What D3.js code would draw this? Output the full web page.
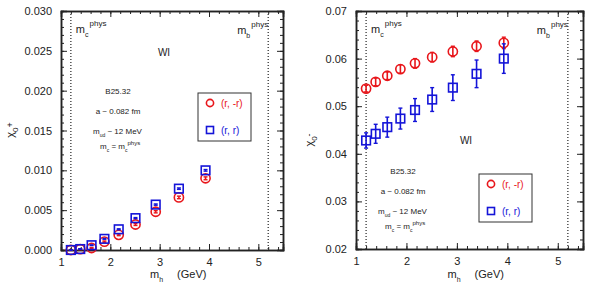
<!DOCTYPE html>
<html>
<head>
<meta charset="utf-8">
<script src="https://cdn.jsdelivr.net/npm/d3@7"></script>
<style>
  body { margin: 0; background: #fff; }
  svg text { font-family: "Liberation Sans", "DejaVu Sans", sans-serif; fill: #222; }
</style>
</head>
<body>
<script>
// hadron masses m_h (GeV)
var mh = [1.20, 1.39, 1.62, 1.88, 2.17, 2.51, 2.92, 3.39, 3.93];

// chi_0+ panel
var plusRed = [0.0000, 0.0001, 0.00025, 0.00105, 0.0019, 0.0032, 0.0048, 0.0066, 0.0090];
var plusRedErr = [0.00005, 0.00005, 0.00006, 0.00008, 0.0001, 0.00012, 0.00014, 0.00016, 0.00018];
var plusBlue = [0.0000, 0.00012, 0.0006, 0.0014, 0.0026, 0.0040, 0.0057, 0.0077, 0.0100];
var plusBlueErr = [0.00003, 0.00003, 0.00004, 0.00005, 0.00006, 0.00007, 0.00008, 0.00009, 0.0001];

// chi_0- panel
var minusRed = [0.0537, 0.0551, 0.0564, 0.0578, 0.0590, 0.0603, 0.0615, 0.0626, 0.0633];
var minusRedErr = [0.0007, 0.0008, 0.0008, 0.0009, 0.0010, 0.0010, 0.0011, 0.0011, 0.0012];
var minusBlue = [0.0428, 0.0442, 0.0456, 0.0474, 0.0492, 0.0514, 0.0539, 0.0568, 0.0600];
var minusBlueErr = [0.0016, 0.0020, 0.0021, 0.0022, 0.0024, 0.0025, 0.0027, 0.0029, 0.0031];

var xTicks = [1, 2, 3, 4, 5];
var mcPhys = 1.2, mbPhys = 5.2;

var red = "#e8161b", blue = "#1414d8";

var svg = d3.select("body").append("svg")
    .attr("width", 597).attr("height", 294);

function panel(o) {
    var g = svg.append("g");
    var x = d3.scaleLinear().domain([1, 5.5]).range([o.left, o.right]);
    var y = d3.scaleLinear().domain(o.ydom).range([o.bottom, o.top]);

    // minor + major ticks on all sides (inward)
    var xMinor = d3.range(1, 5.5001, 0.2);
    var yMinor = d3.range(o.ydom[0], o.ydom[1] + 1e-9, o.minor);
    g.append("g").attr("transform", "translate(0," + o.bottom + ")")
        .call(d3.axisBottom(x).tickValues(xMinor).tickSize(-3).tickFormat(""));
    g.append("g").attr("transform", "translate(0," + o.top + ")")
        .call(d3.axisTop(x).tickValues(xMinor).tickSize(-3).tickFormat(""));
    g.append("g").attr("transform", "translate(" + o.left + ",0)")
        .call(d3.axisLeft(y).tickValues(yMinor).tickSize(-3).tickFormat(""));
    g.append("g").attr("transform", "translate(" + o.right + ",0)")
        .call(d3.axisRight(y).tickValues(yMinor).tickSize(-3).tickFormat(""));

    var xa = g.append("g").attr("transform", "translate(0," + o.bottom + ")")
        .call(d3.axisBottom(x).tickValues(xTicks).tickSize(-6).tickPadding(8).tickFormat(d3.format("d")));
    g.append("g").attr("transform", "translate(0," + o.top + ")")
        .call(d3.axisTop(x).tickValues(xTicks).tickSize(-6).tickFormat(""));
    var ya = g.append("g").attr("transform", "translate(" + o.left + ",0)")
        .call(d3.axisLeft(y).tickValues(o.yticks).tickSize(-6).tickPadding(9).tickFormat(d3.format(o.fmt)));
    g.append("g").attr("transform", "translate(" + o.right + ",0)")
        .call(d3.axisRight(y).tickValues(o.yticks).tickSize(-6).tickFormat(""));
    g.selectAll(".domain").attr("stroke", "#222").attr("stroke-width", 1.5);
    g.selectAll(".tick line").attr("stroke", "#222");
    xa.selectAll("text").style("font-size", "11px");
    ya.selectAll("text").style("font-size", "11px");

    // physical mass lines
    [mcPhys, mbPhys].forEach(function(v) {
        g.append("line").attr("x1", x(v)).attr("x2", x(v))
            .attr("y1", o.top).attr("y2", o.bottom)
            .attr("stroke", "#222").attr("stroke-width", 1.2)
            .attr("stroke-dasharray", "1,2");
    });

    // labels
    function mlabel(subTxt, xx, yy) {
        var tx = g.append("text").attr("x", xx).attr("y", yy).style("font-size", "11px");
        tx.append("tspan").text("m");
        tx.append("tspan").attr("dy", 4).style("font-size", "7px").text(subTxt);
        tx.append("tspan").attr("dy", -11).attr("dx", 1).style("font-size", "8px").text("phys");
    }
    mlabel("c", x(mcPhys) + 5, o.top + 22);
    mlabel("b", x(mbPhys) - 31, o.top + 23);
    g.append("text").attr("x", o.wi[0]).attr("y", o.wi[1]).attr("text-anchor", "middle")
        .style("font-size", "10px").text("WI");

    var ix = o.info[0], iy = o.info[1];
    g.append("text").attr("x", ix).attr("y", iy).attr("text-anchor", "middle").style("font-size", "8px").text("B25.32");
    g.append("text").attr("x", ix).attr("y", iy + 20).attr("text-anchor", "middle").style("font-size", "8px").text("a ~ 0.082 fm");
    var t3 = g.append("text").attr("x", ix - 25).attr("y", iy + 40).style("font-size", "8px");
    t3.append("tspan").text("m");
    t3.append("tspan").attr("dy", 3).style("font-size", "5px").text("ud");
    t3.append("tspan").attr("dy", -3).text(" ~ 12 MeV");
    var t4 = g.append("text").attr("x", ix - 18).attr("y", iy + 55).style("font-size", "8px");
    t4.append("tspan").text("m");
    t4.append("tspan").attr("dy", 3).style("font-size", "5px").text("c");
    t4.append("tspan").attr("dy", -3).text(" = m");
    t4.append("tspan").attr("dy", 3).style("font-size", "5px").text("c");
    t4.append("tspan").attr("dy", -7).style("font-size", "6px").text("phys");

    // legend
    var lg = o.legend;
    g.append("rect").attr("x", lg[0]).attr("y", lg[1]).attr("width", 53).attr("height", 48)
        .attr("fill", "#fff").attr("stroke", "#333").attr("stroke-width", 1);
    g.append("circle").attr("cx", lg[0] + 12).attr("cy", lg[1] + 10).attr("r", 3.6)
        .attr("fill", "none").attr("stroke", red).attr("stroke-width", 1.6);
    g.append("text").attr("x", lg[0] + 23).attr("y", lg[1] + 14)
        .style("font-size", "10px").style("fill", red).text("(r, -r)");
    g.append("rect").attr("x", lg[0] + 8.5).attr("y", lg[1] + 33.5).attr("width", 7).attr("height", 7)
        .attr("fill", "none").attr("stroke", blue).attr("stroke-width", 1.6);
    g.append("text").attr("x", lg[0] + 23).attr("y", lg[1] + 41)
        .style("font-size", "10px").style("fill", blue).text("(r, r)");

    // axis titles
    var xt = g.append("text").attr("x", (o.left + o.right) / 2 - 22).attr("y", 278).style("font-size", "11px");
    xt.append("tspan").text("m");
    xt.append("tspan").attr("dy", 4).style("font-size", "7px").text("h");
    xt.append("tspan").attr("dy", -4).attr("dx", 14).text("(GeV)");
    var yt = g.append("text").attr("transform", "translate(" + o.ylab[0] + "," + o.ylab[1] + ") rotate(-90)")
        .attr("text-anchor", "middle").style("font-size", "11px");
    yt.append("tspan").text("\u03c7");
    yt.append("tspan").attr("dy", 4).style("font-size", "8px").text("0");
    yt.append("tspan").attr("dy", -5).style("font-size", "9px").text(o.sign);

    // data: error bars + markers
    function series(vals, errs, col, shape) {
        var s = g.append("g");
        var d = mh.map(function(m, i) { return { m: m, v: vals[i], e: errs[i] }; });
        s.selectAll(null).data(d).enter().append("line")
            .attr("x1", function(p) { return x(p.m); }).attr("x2", function(p) { return x(p.m); })
            .attr("y1", function(p) { return y(p.v - p.e); }).attr("y2", function(p) { return y(p.v + p.e); })
            .attr("stroke", col).attr("stroke-width", 1.6);
        [-1, 1].forEach(function(sg) {
            s.selectAll(null).data(d).enter().append("line")
                .attr("x1", function(p) { return x(p.m) - 2; }).attr("x2", function(p) { return x(p.m) + 2; })
                .attr("y1", function(p) { return y(p.v + sg * p.e); })
                .attr("y2", function(p) { return y(p.v + sg * p.e); })
                .attr("stroke", col).attr("stroke-width", 1.4);
        });
        if (shape == "circle") {
            s.selectAll(null).data(d).enter().append("circle")
                .attr("cx", function(p) { return x(p.m); }).attr("cy", function(p) { return y(p.v); })
                .attr("r", 4.6).attr("fill", "none").attr("stroke", col).attr("stroke-width", 1.6);
        } else {
            s.selectAll(null).data(d).enter().append("rect")
                .attr("x", function(p) { return x(p.m) - 4.3; }).attr("y", function(p) { return y(p.v) - 4.3; })
                .attr("width", 8.6).attr("height", 8.6)
                .attr("fill", "none").attr("stroke", col).attr("stroke-width", 1.6);
        }
    }
    series(o.red, o.redErr, red, "circle");
    series(o.blue, o.blueErr, blue, "square");
}

panel({
    left: 61, right: 283, top: 11, bottom: 250,
    ydom: [0, 0.03], yticks: [0, 0.005, 0.01, 0.015, 0.02, 0.025, 0.03], minor: 0.001, fmt: ".3f",
    red: plusRed, redErr: plusRedErr, blue: plusBlue, blueErr: plusBlueErr,
    wi: [164, 56], info: [118, 94], legend: [198, 93], ylab: [14, 130], sign: "+"
});
panel({
    left: 356, right: 583, top: 11, bottom: 249,
    ydom: [0.02, 0.07], yticks: [0.02, 0.03, 0.04, 0.05, 0.06, 0.07], minor: 0.002, fmt: ".2f",
    red: minusRed, redErr: minusRedErr, blue: minusBlue, blueErr: minusBlueErr,
    wi: [466, 144], info: [403, 174], legend: [479, 174], ylab: [313, 140], sign: "-"
});
</script>
</body>
</html>
